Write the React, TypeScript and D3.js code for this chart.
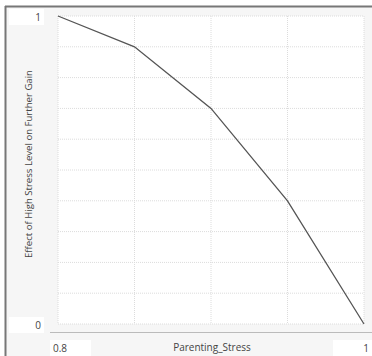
import React from "react";
import * as d3 from "d3";

const stressX = [0.8, 0.85, 0.9, 0.95, 1.0];
const effectY = [1, 0.9, 0.7, 0.4, 0];
const xTicks = [0.8, 0.85, 0.9, 0.95, 1.0];
const yTicks = d3.range(0, 11).map((i) => i / 10);

export default function App() {
  const W = 372, H = 356;
  const x = d3.scaleLinear().domain([0.8, 1]).range([58, 364]);
  const y = d3.scaleLinear().domain([0, 1]).range([324, 16]);
  const line = d3.line<number>().x((_, i) => x(stressX[i])).y((d) => y(d));
  const font = "'Open Sans', 'Noto Sans', sans-serif";
  return (
    <svg width={W} height={H} style={{ position: "absolute", left: 0, top: 0, display: "block" }}>
      <rect x={0} y={0} width={W} height={H} fill="#ffffff" />
      <rect x={5} y={6} width={W - 5} height={H - 6} fill="#f6f6f6" />
      <line x1={5} x2={W} y1={6.5} y2={6.5} stroke="#777" strokeWidth={2} />
      <line x1={5.5} x2={5.5} y1={6} y2={H} stroke="#777" strokeWidth={2} />
      <rect x={x(0.8)} y={y(1)} width={x(1) - x(0.8)} height={y(0) - y(1)} fill="#fff" />
      {xTicks.map((t) => (
        <line key={"x" + t} x1={x(t)} x2={x(t)} y1={y(1)} y2={y(0)} stroke="#dcdcdc" strokeDasharray="1,1" />
      ))}
      {yTicks.map((t) => (
        <line key={"y" + t} x1={x(0.8)} x2={x(1)} y1={y(t)} y2={y(t)} stroke="#dcdcdc" strokeDasharray="1,1" />
      ))}
      <line x1={50} x2={W} y1={332.5} y2={332.5} stroke="#bbb" strokeWidth={1} />
      <path d={line(effectY) || ""} fill="none" stroke="#555" strokeWidth={1.3} />
      <rect x={9} y={9} width={35} height={16} fill="#fff" />
      <text x={41} y={21} textAnchor="end" fontSize={10} fontFamily={font} fill="#444">1</text>
      <rect x={9} y={317} width={35} height={16} fill="#fff" />
      <text x={41} y={329} textAnchor="end" fontSize={10} fontFamily={font} fill="#444">0</text>
      <rect x={50} y={340} width={41} height={16} fill="#fff" />
      <text x={53} y={352} textAnchor="start" fontSize={10} fontFamily={font} fill="#444">0.8</text>
      <rect x={333} y={340} width={39} height={16} fill="#fff" />
      <text x={369} y={352} textAnchor="end" fontSize={10} fontFamily={font} fill="#444">1</text>
      <text x={212} y={351} textAnchor="middle" fontSize={10} fontFamily={font} fill="#444">Parenting_Stress</text>
      <text transform="translate(32,164) rotate(-90)" textAnchor="middle" fontSize={9.6} fontFamily={font} fill="#444">
        Effect of High Stress Level on Further Gain
      </text>
    </svg>
  );
}
